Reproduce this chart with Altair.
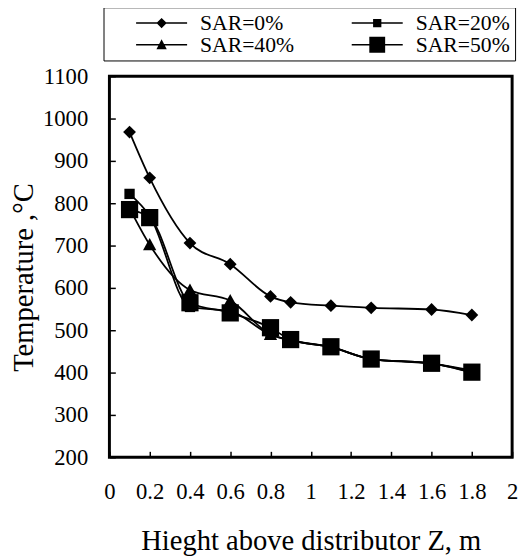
import altair as alt
import pandas as pd

# ---- data ----
z = [0.1, 0.2, 0.4, 0.6, 0.8, 0.9, 1.1, 1.3, 1.6, 1.8]
sar_0 = [968, 860, 706, 656, 580, 566, 558, 553, 549, 536]
sar_20 = [822, 770, 555, 545, 490, 476, 460, 432, 421, 405]
sar_40 = [788, 702, 595, 570, 490, 476, 460, 432, 422, 400]
sar_50 = [785, 766, 565, 541, 506, 478, 461, 432, 422, 401]
series = ["SAR=0%", "SAR=20%", "SAR=40%", "SAR=50%"]
x_ticks = [0, 0.2, 0.4, 0.6, 0.8, 1, 1.2, 1.4, 1.6, 1.8, 2]
y_ticks = [200, 300, 400, 500, 600, 700, 800, 900, 1000, 1100]

# marker shapes (size baked into the path, mark size fixed)
plot_shapes = [
    "M0,-1.3L1.3,0L0,1.3L-1.3,0Z",
    "M-1.05,-1.05H1.05V1.05H-1.05Z",
    "M0,-1.35L1.35,1.1L-1.35,1.1Z",
    "M-1.75,-1.75H1.75V1.75H-1.75Z",
]
# legend glyphs: a thin filled bar (the line) plus the marker
BAR = "M-3.7,-0.11H3.7V0.11H-3.7Z"
legend_shapes = [
    BAR + "M0,-0.75L0.75,0L0,0.75L-0.75,0Z",
    BAR + "M-0.6,-0.6H0.6V0.6H-0.6Z",
    BAR + "M0,-0.8L0.75,0.65L-0.75,0.65Z",
    BAR + "M-1.15,-1.15H1.15V1.15H-1.15Z",
]

rows = []
for name, vals in zip(series, [sar_0, sar_20, sar_40, sar_50]):
    for zi, v in zip(z, vals):
        rows.append({"z": zi, "T": v, "series": name})
df = pd.DataFrame(rows)

FONT = "Liberation Serif"

x_enc = alt.X(
    "z:Q",
    scale=alt.Scale(domain=[0, 2], nice=False, zero=False),
    axis=alt.Axis(
        values=x_ticks, format="~g", title="Hieght above distributor Z, m",
        offset=-6, tickSize=6, tickWidth=1.5, domain=False, grid=False,
        labelFont=FONT, titleFont=FONT,
        labelFontSize=23, titleFontSize=29, labelPadding=24, titlePadding=24,
        labelFlush=False, labelOverlap=False,
    ),
)
y_enc = alt.Y(
    "T:Q",
    scale=alt.Scale(domain=[200, 1100], nice=False, zero=False),
    axis=alt.Axis(
        values=y_ticks, format="d", title="Temperature ,°C",
        offset=-6, tickSize=6, tickWidth=1.5, domain=False, grid=False,
        labelFont=FONT, titleFont=FONT,
        labelFontSize=23, titleFontSize=29, labelPadding=22, titlePadding=4,
        titleY=204, labelOverlap=False, labelFlush=False,
    ),
)

base = alt.Chart(df)

lines = base.mark_line(color="black", strokeWidth=1.8, interpolate="monotone").encode(
    x=x_enc, y=y_enc, detail="series:N"
)

points = base.mark_point(filled=True, color="black", opacity=1, size=100).encode(
    x=x_enc,
    y=y_enc,
    shape=alt.Shape("series:N", scale=alt.Scale(domain=series, range=plot_shapes), legend=None),
)

legend_layer = base.transform_filter("false").mark_point(
    filled=True, color="black", size=196, opacity=1,
).encode(
    x=x_enc,
    y=y_enc,
    shape=alt.Shape(
        "series:N",
        scale=alt.Scale(domain=series, range=legend_shapes),
        legend=alt.Legend(
            title=None, orient="none", legendX=-6, legendY=-70, columns=2,
            direction="horizontal",
            columnPadding=30, rowPadding=-4, padding=5,
            strokeColor="black", fillColor="white",
            labelFont=FONT, labelFontSize=22, labelColor="black",
            labelOffset=28, symbolOffset=43, symbolSize=196,
            symbolStrokeWidth=0, symbolFillColor="black",
            symbolOpacity=1,
        ),
    ),
)

chart = (
    alt.layer(lines, points, legend_layer)
    .resolve_scale(shape="independent")
    .properties(
        width=409, height=387,
        autosize=alt.AutoSizeParams(type="none"),
        padding={"left": 103, "top": 65, "right": 8, "bottom": 96},
    )
    .configure_view(stroke="black", strokeWidth=3)
    .configure_axis(
        labelFont=FONT, titleFont=FONT, labelColor="black", titleColor="black",
        tickColor="black", titleFontWeight="normal",
    )
    .configure_legend(labelFont=FONT)
)

chart.save("out.html", embed_options={"renderer": "svg", "actions": False})
